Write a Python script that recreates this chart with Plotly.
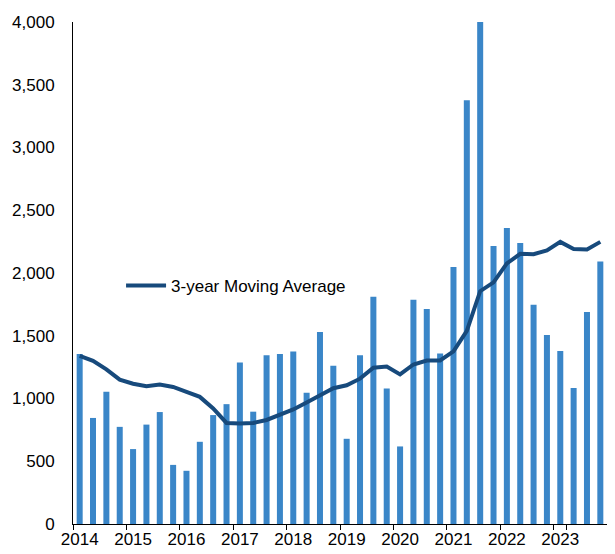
import plotly.graph_objects as go

years = ['2014', '2015', '2016', '2017', '2018', '2019', '2020', '2021', '2022', '2023']
quarters = [y + ' Q' + str(q) for y in years for q in range(1, 5)]

# quarterly values (bars)
quarterly = [1355, 845, 1053, 774, 597, 792, 892, 471,
             424, 655, 868, 955, 1287, 895, 1345, 1355,
             1374, 1045, 1529, 1261, 679, 1345, 1811, 1079,
             618, 1787, 1713, 1358, 2047, 3376, 4000, 2216,
             2358, 2239, 1747, 1505, 1379, 1084, 1689, 2092]

# 3-year moving average (line)
moving_avg = [1339, 1300, 1232, 1150, 1118, 1097, 1111, 1092,
              1053, 1013, 921, 805, 800, 805, 829, 874,
              913, 968, 1024, 1082, 1105, 1158, 1245, 1255,
              1192, 1271, 1303, 1303, 1376, 1539, 1855, 1925,
              2076, 2153, 2150, 2180, 2248, 2191, 2188, 2248]

font = 'Arial, Liberation Sans, sans-serif'

fig = go.Figure()
fig.add_trace(go.Bar(x=quarters, y=quarterly, marker_color='#3A86C8', marker_line_width=0,
                     showlegend=False, name='Quarterly'))
fig.add_trace(go.Scatter(x=quarters, y=moving_avg, mode='lines', name='3-year Moving Average',
                         line=dict(color='#174A7C', width=4)))

fig.update_layout(
    width=615, height=554,
    margin=dict(l=73, r=8, t=22, b=30, autoexpand=False),
    plot_bgcolor='white', paper_bgcolor='white',
    bargap=0.55,
    font=dict(family=font, size=17, color='black'),
    legend=dict(x=0.09, y=0.474, xanchor='left', yanchor='middle', bgcolor='rgba(0,0,0,0)',
                font=dict(size=17), itemwidth=40, tracegroupgap=0),
)
fig.update_xaxes(type='category', tickvals=quarters[::4], ticktext=years, tickson='boundaries',
                 tickangle=0, automargin=False,
                 ticks='outside', ticklen=5, tickcolor='black', showline=True, linecolor='black',
                 linewidth=1, showgrid=False, tickfont=dict(size=17))
fig.update_yaxes(range=[0, 4000], tickvals=[0, 500, 1000, 1500, 2000, 2500, 3000, 3500, 4000],
                 tickformat=',', showline=True, linecolor='black', linewidth=1, showgrid=False,
                 automargin=False,
                 ticks='', ticklabelstandoff=14, zeroline=False, tickfont=dict(size=17))

# the page body has a default 8px margin; drop it so the figure fills the window
fig.write_html("out.html", config={'displayModeBar': False},
               post_script="document.body.style.margin='0';")
